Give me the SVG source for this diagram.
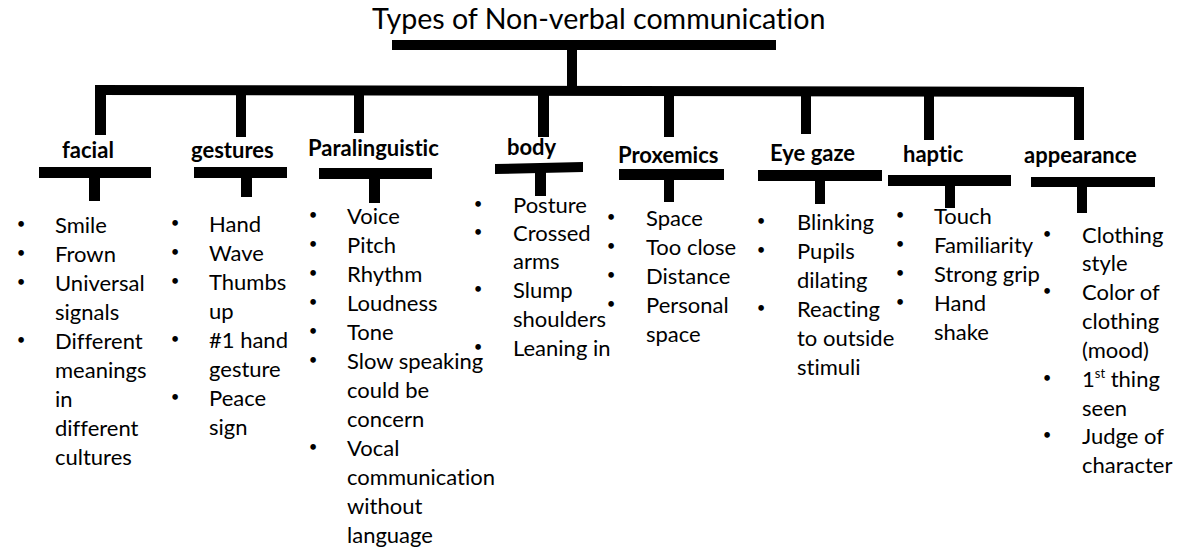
<svg xmlns="http://www.w3.org/2000/svg" width="1188" height="548" viewBox="0 0 1188 548">
  <style>
    text { font-family: Lato, "Liberation Sans", sans-serif; fill: #000; font-variant-ligatures: none; font-feature-settings: "liga" 0, "clig" 0; }
    .title { font-size: 28.6px; }
    .lbl { font-size: 22px; font-weight: bold; }
    .item { font-size: 22px; }
    .dot { font-size: 15px; text-anchor: middle; }
    .sup { font-size: 13px; }
    .bar { fill: #000; }
  </style>
  <rect width="1188" height="548" fill="#fff"/>

  <!-- tree connectors: title bar, trunk, main branch, drops and T-bars -->
  <g id="connectors">
    <rect class="bar" x="392" y="40" width="384" height="10"/>
    <rect class="bar" x="567" y="49" width="10" height="37"/>
    <polygon class="bar" points="95,85 1084,87 1084,97 95,95"/>
    <rect class="bar" x="95" y="90" width="11" height="45"/>
    <rect class="bar" x="236" y="90" width="10" height="47"/>
    <rect class="bar" x="354" y="90" width="10" height="43"/>
    <rect class="bar" x="538" y="90" width="11" height="47"/>
    <rect class="bar" x="664" y="90" width="10" height="47"/>
    <rect class="bar" x="801" y="90" width="10" height="44"/>
    <rect class="bar" x="924" y="90" width="10" height="50"/>
    <rect class="bar" x="1074" y="90" width="10" height="50"/>

    <rect class="bar" x="39" y="167" width="112" height="11"/>
    <rect class="bar" x="89" y="177" width="11" height="24"/>
    <rect class="bar" x="194" y="167" width="93" height="11"/>
    <rect class="bar" x="241" y="177" width="11" height="20"/>
    <rect class="bar" x="319" y="168" width="113" height="11"/>
    <rect class="bar" x="369" y="178" width="11" height="25"/>
    <polygon class="bar" points="495,164 583,162 583,172 495,174"/>
    <rect class="bar" x="535" y="172" width="11" height="24"/>
    <rect class="bar" x="619" y="169" width="105" height="11"/>
    <rect class="bar" x="664" y="179" width="10" height="23"/>
    <rect class="bar" x="758" y="170" width="124" height="11"/>
    <rect class="bar" x="815" y="180" width="10" height="24"/>
    <rect class="bar" x="888" y="175" width="123" height="11"/>
    <rect class="bar" x="945" y="185" width="10" height="23"/>
    <rect class="bar" x="1031" y="177" width="124" height="10"/>
    <rect class="bar" x="1077" y="186" width="10" height="27"/>
  </g>

  <g id="title">
    <text class="title" x="372" y="29">Types of Non-verbal communication</text>
  </g>

  <g id="facial">
    <text class="lbl" x="62" y="158">facial</text>
    <g transform="translate(0,-4)">
      <text class="dot" x="21" y="233">•</text>
      <text class="dot" x="21" y="262">•</text>
      <text class="dot" x="21" y="291">•</text>
      <text class="dot" x="21" y="349">•</text>
    </g>
    <text class="item">
      <tspan x="55" y="233">Smile</tspan>
      <tspan x="55" y="262">Frown</tspan>
      <tspan x="55" y="291">Universal</tspan>
      <tspan x="55" y="320">signals</tspan>
      <tspan x="55" y="349">Different</tspan>
      <tspan x="55" y="378">meanings</tspan>
      <tspan x="55" y="407">in</tspan>
      <tspan x="55" y="436">different</tspan>
      <tspan x="55" y="465">cultures</tspan>
    </text>
  </g>

  <g id="gestures">
    <text class="lbl" x="191" y="158">gestures</text>
    <g transform="translate(0,-4)">
      <text class="dot" x="175" y="232">•</text>
      <text class="dot" x="175" y="261">•</text>
      <text class="dot" x="175" y="290">•</text>
      <text class="dot" x="175" y="348">•</text>
      <text class="dot" x="175" y="406">•</text>
    </g>
    <text class="item">
      <tspan x="209" y="232">Hand</tspan>
      <tspan x="209" y="261">Wave</tspan>
      <tspan x="209" y="290">Thumbs</tspan>
      <tspan x="209" y="319">up</tspan>
      <tspan x="209" y="348">#1 hand</tspan>
      <tspan x="209" y="377">gesture</tspan>
      <tspan x="209" y="406">Peace</tspan>
      <tspan x="209" y="435">sign</tspan>
    </text>
  </g>

  <g id="paralinguistic">
    <text class="lbl" x="308" y="156">Paralinguistic</text>
    <g transform="translate(0,-4)">
      <text class="dot" x="313" y="224">•</text>
      <text class="dot" x="313" y="253">•</text>
      <text class="dot" x="313" y="282">•</text>
      <text class="dot" x="313" y="311">•</text>
      <text class="dot" x="313" y="340">•</text>
      <text class="dot" x="313" y="369">•</text>
      <text class="dot" x="313" y="456">•</text>
    </g>
    <text class="item">
      <tspan x="347" y="224">Voice</tspan>
      <tspan x="347" y="253">Pitch</tspan>
      <tspan x="347" y="282">Rhythm</tspan>
      <tspan x="347" y="311">Loudness</tspan>
      <tspan x="347" y="340">Tone</tspan>
      <tspan x="347" y="369">Slow speaking</tspan>
      <tspan x="347" y="398">could be</tspan>
      <tspan x="347" y="427">concern</tspan>
      <tspan x="347" y="456">Vocal</tspan>
      <tspan x="347" y="485">communication</tspan>
      <tspan x="347" y="514">without</tspan>
      <tspan x="347" y="543">language</tspan>
    </text>
  </g>

  <g id="body">
    <text class="lbl" x="507" y="155">body</text>
    <g transform="translate(0,-4)">
      <text class="dot" x="478" y="213">•</text>
      <text class="dot" x="478" y="241">•</text>
      <text class="dot" x="478" y="298">•</text>
      <text class="dot" x="478" y="356">•</text>
    </g>
    <text class="item">
      <tspan x="513" y="213">Posture</tspan>
      <tspan x="513" y="241">Crossed</tspan>
      <tspan x="513" y="269">arms</tspan>
      <tspan x="513" y="298">Slump</tspan>
      <tspan x="513" y="327">shoulders</tspan>
      <tspan x="513" y="356">Leaning in</tspan>
    </text>
  </g>

  <g id="proxemics">
    <text class="lbl" x="618" y="163">Proxemics</text>
    <g transform="translate(0,-4)">
      <text class="dot" x="611" y="226">•</text>
      <text class="dot" x="611" y="255">•</text>
      <text class="dot" x="611" y="284">•</text>
      <text class="dot" x="611" y="313">•</text>
    </g>
    <text class="item">
      <tspan x="646" y="226">Space</tspan>
      <tspan x="646" y="255">Too close</tspan>
      <tspan x="646" y="284">Distance</tspan>
      <tspan x="646" y="313">Personal</tspan>
      <tspan x="646" y="342">space</tspan>
    </text>
  </g>

  <g id="eye-gaze">
    <text class="lbl" x="770" y="161">Eye gaze</text>
    <g transform="translate(0,-4)">
      <text class="dot" x="761" y="230">•</text>
      <text class="dot" x="761" y="259">•</text>
      <text class="dot" x="761" y="317">•</text>
    </g>
    <text class="item">
      <tspan x="797" y="230">Blinking</tspan>
      <tspan x="797" y="259">Pupils</tspan>
      <tspan x="797" y="288">dilating</tspan>
      <tspan x="797" y="317">Reacting</tspan>
      <tspan x="797" y="346">to outside</tspan>
      <tspan x="797" y="375">stimuli</tspan>
    </text>
  </g>

  <g id="haptic">
    <text class="lbl" x="903" y="162">haptic</text>
    <g transform="translate(0,-4)">
      <text class="dot" x="900" y="224">•</text>
      <text class="dot" x="900" y="253">•</text>
      <text class="dot" x="900" y="282">•</text>
      <text class="dot" x="900" y="311">•</text>
    </g>
    <text class="item">
      <tspan x="934" y="224">Touch</tspan>
      <tspan x="934" y="253">Familiarity</tspan>
      <tspan x="934" y="282">Strong grip</tspan>
      <tspan x="934" y="311">Hand</tspan>
      <tspan x="934" y="340">shake</tspan>
    </text>
  </g>

  <g id="appearance">
    <text class="lbl" x="1024" y="163">appearance</text>
    <g transform="translate(0,-4)">
      <text class="dot" x="1047" y="243">•</text>
      <text class="dot" x="1047" y="300">•</text>
      <text class="dot" x="1047" y="387">•</text>
      <text class="dot" x="1047" y="444">•</text>
    </g>
    <text class="item">
      <tspan x="1082" y="243">Clothing</tspan>
      <tspan x="1082" y="271">style</tspan>
      <tspan x="1082" y="300">Color of</tspan>
      <tspan x="1082" y="329">clothing</tspan>
      <tspan x="1082" y="358">(mood)</tspan>
      <tspan x="1082" y="387">1<tspan class="sup" dy="-9">st</tspan><tspan dy="9"> thing</tspan></tspan>
      <tspan x="1082" y="416">seen</tspan>
      <tspan x="1082" y="444">Judge of</tspan>
      <tspan x="1082" y="473">character</tspan>
    </text>
  </g>
</svg>
